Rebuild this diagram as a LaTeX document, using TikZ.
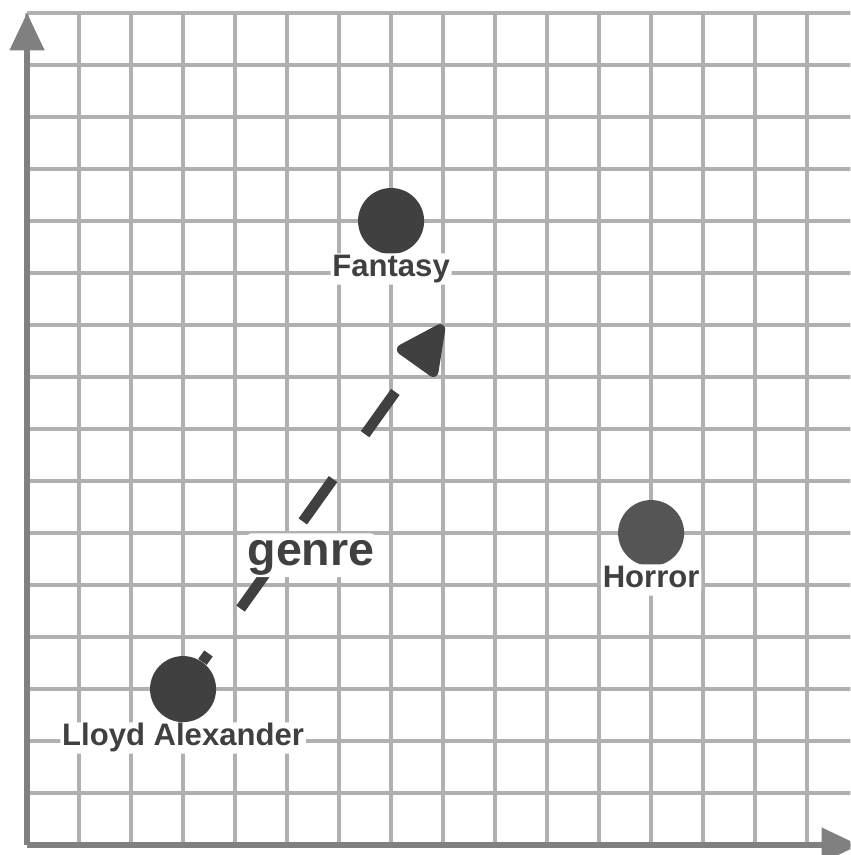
\documentclass[tikz,border=0pt]{standalone}
\usepackage{fontspec}
\setmainfont{Liberation Sans}
\usetikzlibrary{
    arrows.meta,
    positioning,
    calc
}
\definecolor{gridgray}{HTML}{B0B0B0}
\definecolor{axisgray}{HTML}{808080}
\definecolor{inkgray}{HTML}{404040}
\definecolor{horrorgray}{HTML}{555555}
\tikzset{
    % --- Background grid line ---
    grid line/.style = {
        draw=gridgray, line width=2.2pt
    },
    % --- Axis with triangular head ---
    axis/.style = {
        draw=axisgray, line width=3pt,
        -{Triangle[length=0.72cm, width=0.65cm]}
    },
    % --- Data point (filled disc) ---
    point/.style = {
        circle, fill=inkgray,
        minimum size=1.27cm, inner sep=0pt
    },
    % --- Point label with white backing ---
    point label/.style = {
        font=\bfseries\fontsize{17}{20}\selectfont,
        text=inkgray, fill=white, rounded corners=3pt,
        inner sep=1pt, text height=11.5pt, text depth=3.6pt,
        anchor=base
    },
    % --- Relation label (larger) ---
    relation label/.style = {
        point label, font=\bfseries\fontsize{25.5}{30}\selectfont,
        text height=16.5pt, text depth=5.5pt
    },
    % --- Dashed relation arrow ---
    relation arrow/.style = {
        draw=inkgray, line width=5.7pt,
        dash pattern=on 1cm off 1.06cm, dash phase=0.8cm,
        -{Triangle[length=1.08cm, width=1.0cm, round]}
    }
}

\begin{document}
\begin{tikzpicture}

\useasboundingbox (-0.52,-0.19) rectangle (15.83,16.25);
\clip (-0.52,-0.19) rectangle (15.83,16.25);

% ---------------------------------------------------------
% Grid and axes
% ---------------------------------------------------------
\draw[grid line] (0,0) grid (16,16);

\coordinate (origin) at (0,0);
\coordinate (xEnd) at (16,0);
\coordinate (yEnd) at (0,16);
\draw[axis] (origin) -- (xEnd);
\draw[axis] (origin) -- (yEnd);

% ---------------------------------------------------------
% Points
% ---------------------------------------------------------
\node[point] (lloyd) at (3,3) {};
\node[point] (fantasy) at (7,12) {};
\node[point, fill=horrorgray] (horror) at (12,6) {};

% ---------------------------------------------------------
% Relation arrow
% ---------------------------------------------------------
\coordinate (genreTip) at (8,10);
\draw[relation arrow] (lloyd) -- (genreTip);
\node[relation label] (genre) at (5.46,5.38) {genre};

% ---------------------------------------------------------
% Labels
% ---------------------------------------------------------
\node[point label] (lloydLbl) at ($(lloyd.center)+(0,-1.08)$) {Lloyd Alexander};
\node[point label] (fantasyLbl) at ($(fantasy.center)+(0,-1.06)$) {Fantasy};
\node[point label] (horrorLbl) at ($(horror.center)+(0,-1.04)$) {Horror};

\end{tikzpicture}
\end{document}
